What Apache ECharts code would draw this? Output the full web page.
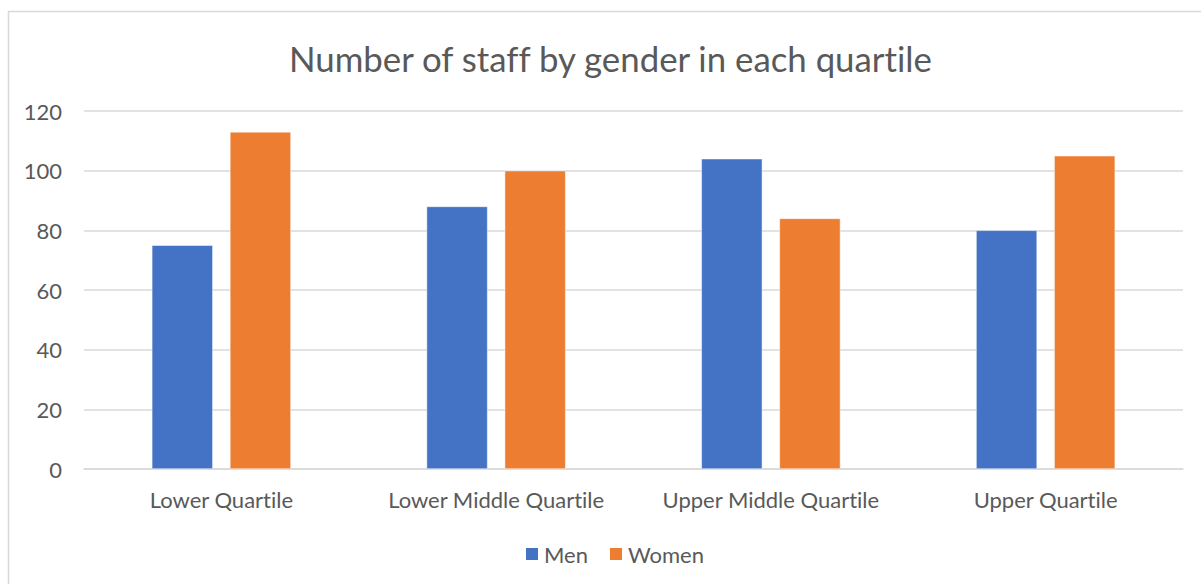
<!DOCTYPE html>
<html><head><meta charset="utf-8">
<script src="https://cdn.jsdelivr.net/npm/echarts@6/dist/echarts.min.js"></script>
<style>html,body{margin:0;padding:0;background:#fff}#c{width:1201px;height:584px}
#c text{font-variant-ligatures:none;font-feature-settings:"liga" 0,"clig" 0}</style>
</head><body><div id="c"></div>
<script>
const categories = ['Lower Quartile', 'Lower Middle Quartile', 'Upper Middle Quartile', 'Upper Quartile'];
const men = [75, 88, 104, 80];
const women = [113, 100, 84, 105];
const yTicks = { min: 0, max: 120, interval: 20 };

const chart = echarts.init(document.getElementById('c'), null, { renderer: 'svg' });
const font = 'Lato, "Open Sans", sans-serif';
chart.setOption({
  animation: false,
  textStyle: { fontFamily: font },
  graphic: [{
    type: 'rect', silent: true, z: -10,
    shape: { x: 8.5, y: 11.5, width: 1400, height: 800 },
    style: { fill: 'none', stroke: '#d9d9d9', lineWidth: 1.5 }
  }],
  title: {
    text: 'Number of staff by gender in each quartile',
    left: 284, top: 36,
    textStyle: { fontFamily: font, fontSize: 34.8, fontWeight: 'normal', color: '#595959' }
  },
  legend: {
    top: 538, left: 519,
    itemWidth: 14, itemHeight: 14, itemGap: 20,
    icon: 'rect',
    textStyle: { fontFamily: font, fontSize: 22, color: '#595959' },
    data: ['Men', 'Women']
  },
  grid: { left: 84, right: 18, top: 111, bottom: 115, containLabel: false },
  xAxis: {
    type: 'category', data: categories,
    axisLine: { lineStyle: { color: '#d9d9d9', width: 1.5 } },
    axisTick: { show: false },
    axisLabel: { fontFamily: font, fontSize: 22, color: '#595959', margin: 19, interval: 0 }
  },
  yAxis: {
    type: 'value', min: yTicks.min, max: yTicks.max, interval: yTicks.interval,
    axisLine: { show: false }, axisTick: { show: false },
    splitLine: { lineStyle: { color: '#d9d9d9', width: 1.5 } },
    axisLabel: { fontFamily: font, fontSize: 22, color: '#595959', margin: 22 }
  },
  series: [
    { name: 'Men', type: 'bar', data: men, barWidth: 61, barGap: '28%',
      itemStyle: { color: '#4472C4', borderColor: '#ffffff', borderWidth: 0.5 } },
    { name: 'Women', type: 'bar', data: women, barWidth: 61,
      itemStyle: { color: '#ED7D31', borderColor: '#ffffff', borderWidth: 0.5 } }
  ]
});
</script></body></html>
